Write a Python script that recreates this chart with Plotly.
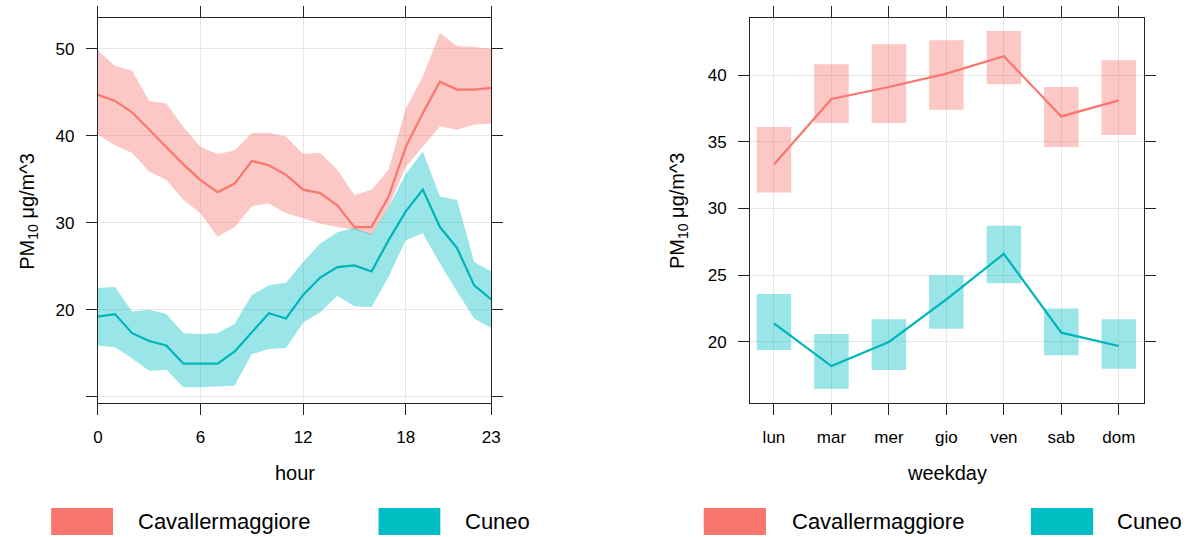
import plotly.graph_objects as go

W, H = 1195, 537

# ---------------- data ----------------
series = ["Cavallermaggiore", "Cuneo"]
colors = ["#F8766D", "#00BFC4"]
line_colors = ["#F8766D", "#00B5BA"]
band_colors = ["rgba(248,118,109,0.4)", "rgba(0,191,196,0.4)"]

hours = list(range(24))
hour_ticks = [0, 6, 12, 18, 23]
cav_hour_mean = [44.7, 44.0, 42.7, 40.7, 38.7, 36.7, 34.9, 33.5, 34.5, 37.1, 36.6, 35.5,
                 33.8, 33.4, 32.0, 29.5, 29.5, 33.0, 38.7, 42.6, 46.2, 45.3, 45.3, 45.5]
cav_hour_upper = [49.8, 48.0, 47.5, 44.0, 43.7, 41.0, 38.7, 37.9, 38.3, 40.3, 40.3, 39.9,
                  37.9, 38.0, 36.1, 33.2, 33.8, 36.1, 43.1, 46.8, 51.8, 50.3, 50.2, 50.0]
cav_hour_lower = [40.1, 38.9, 38.0, 35.9, 34.9, 32.6, 31.1, 28.4, 29.5, 31.9, 32.2, 31.1,
                  30.5, 29.9, 29.5, 29.2, 28.6, 31.8, 36.4, 38.7, 41.1, 40.7, 41.3, 41.4]
cun_hour_mean = [19.2, 19.5, 17.3, 16.4, 15.9, 13.8, 13.8, 13.8, 15.2, 17.4, 19.6, 19.0,
                 21.7, 23.7, 24.9, 25.1, 24.4, 28.0, 31.3, 33.8, 29.5, 27.1, 22.8, 21.2]
cun_hour_upper = [22.5, 22.6, 19.8, 20.0, 19.5, 17.3, 17.2, 17.3, 18.4, 21.7, 22.8, 23.1,
                  25.5, 27.6, 28.9, 29.4, 28.7, 31.8, 35.6, 38.2, 33.0, 32.6, 25.5, 24.4]
cun_hour_lower = [15.9, 15.7, 14.4, 13.0, 13.1, 11.1, 11.1, 11.2, 11.3, 14.9, 15.5, 15.6,
                  18.5, 19.7, 21.6, 20.4, 20.3, 23.8, 28.0, 28.8, 25.3, 22.1, 19.0, 17.9]
hour_yticks = [10, 20, 30, 40, 50]
hour_yticklabels = ["", "20", "30", "40", "50"]

weekdays = ["lun", "mar", "mer", "gio", "ven", "sab", "dom"]
cav_wd_mean = [33.3, 38.2, 39.1, 40.1, 41.4, 36.9, 38.1]
cav_wd_lower = [31.2, 36.4, 36.4, 37.4, 39.3, 34.6, 35.5]
cav_wd_upper = [36.1, 40.8, 42.3, 42.6, 43.3, 39.1, 41.1]
cun_wd_mean = [21.4, 18.2, 20.0, 23.2, 26.6, 20.7, 19.7]
cun_wd_lower = [19.4, 16.5, 17.9, 21.0, 24.4, 19.0, 18.0]
cun_wd_upper = [23.6, 20.6, 21.7, 25.0, 28.7, 22.5, 21.7]
wd_yticks = [20, 25, 30, 35, 40]

hour_means = [cav_hour_mean, cun_hour_mean]
hour_uppers = [cav_hour_upper, cun_hour_upper]
hour_lowers = [cav_hour_lower, cun_hour_lower]
wd_means = [cav_wd_mean, cun_wd_mean]
wd_uppers = [cav_wd_upper, cun_wd_upper]
wd_lowers = [cav_wd_lower, cun_wd_lower]

# ---------------- figure ----------------
fig = go.Figure()

# hour panel: bands
for i in range(2):
    fig.add_trace(go.Scatter(x=hours, y=hour_uppers[i], mode="lines", line=dict(width=0),
                             hoverinfo="skip", showlegend=False, xaxis="x", yaxis="y"))
    fig.add_trace(go.Scatter(x=hours, y=hour_lowers[i], mode="lines", line=dict(width=0),
                             fill="tonexty", fillcolor=band_colors[i],
                             hoverinfo="skip", showlegend=False, xaxis="x", yaxis="y"))
for i in range(2):
    fig.add_trace(go.Scatter(x=hours, y=hour_means[i], mode="lines",
                             line=dict(color=line_colors[i], width=2.2),
                             name=series[i], showlegend=False, xaxis="x", yaxis="y"))

# weekday panel: boxes and lines
for i in range(2):
    fig.add_trace(go.Bar(x=weekdays, y=[u - l for u, l in zip(wd_uppers[i], wd_lowers[i])],
                         base=wd_lowers[i], width=0.6,
                         marker=dict(color=band_colors[i], line=dict(width=0)),
                         showlegend=False, xaxis="x2", yaxis="y2"))
for i in range(2):
    fig.add_trace(go.Scatter(x=weekdays, y=wd_means[i], mode="lines",
                             line=dict(color=line_colors[i], width=2.2),
                             name=series[i], showlegend=False, xaxis="x2", yaxis="y2"))

ydom = [1 - 403 / H, 1 - 18 / H]
tickfont = dict(family="Liberation Sans, Arial, sans-serif", size=17, color="#000000")
common = dict(showline=True, linecolor="#222222", linewidth=1.2, mirror="ticks",
              ticks="outside", ticklen=11, tickwidth=1.2, tickcolor="#222222",
              showgrid=True, gridcolor="#e6e6e6", gridwidth=1, zeroline=False,
              tickfont=tickfont)

fig.update_layout(
    width=W, height=H, margin=dict(l=0, r=0, t=0, b=0), autosize=False,
    paper_bgcolor="white", plot_bgcolor="white", showlegend=False, barmode="overlay",
    xaxis=dict(domain=[94 / W, 492 / W], range=[0, 23], tickmode="array",
               tickvals=hour_ticks, ticktext=[str(t) for t in hour_ticks],
               anchor="y", ticklabelstandoff=7, **common),
    yaxis=dict(domain=ydom, range=[9.28, 53.53], tickmode="array",
               tickvals=hour_yticks, ticktext=hour_yticklabels,
               anchor="x", ticklabelstandoff=8, **common),
    xaxis2=dict(domain=[754 / W, 1152 / W], range=[-0.414, 6.43], type="category",
                categoryorder="array", categoryarray=weekdays,
                anchor="y2", ticklabelstandoff=7, **common),
    yaxis2=dict(domain=ydom, range=[15.43, 44.27], tickmode="array",
                tickvals=wd_yticks, ticktext=[str(t) for t in wd_yticks],
                anchor="x2", ticklabelstandoff=8, **common),
)

font_t = dict(family="Liberation Sans, Arial, sans-serif", size=20, color="#000000")
ann = []
ann.append(dict(text="hour", x=293 / W, y=1 - 473 / H, xref="paper", yref="paper",
                xanchor="center", yanchor="middle", showarrow=False, font=font_t))
ann.append(dict(text="weekday", x=953 / W, y=1 - 473 / H, xref="paper", yref="paper",
                xanchor="center", yanchor="middle", showarrow=False, font=font_t))
ytitle = "PM<sub>10</sub> \u03bcg/m^3"
for xc in (23, 681):
    ann.append(dict(text=ytitle, x=xc / W, y=1 - 211 / H, xref="paper", yref="paper",
                    xanchor="center", yanchor="middle", textangle=-90, showarrow=False,
                    font=font_t))

# legends (one below each panel)
font_l = dict(family="Liberation Sans, Arial, sans-serif", size=22, color="#000000")
legend_rects = [[(46.7, 109.3), (378, 440.5)], [(707, 770), (1038, 1101)]]
legend_text_x = [[133, 463], [794, 1123.5]]
shapes = []
for p in range(2):
    for i in range(2):
        x0, x1 = legend_rects[p][i]
        shapes.append(dict(type="rect", xref="paper", yref="paper",
                           x0=x0 / W, x1=x1 / W, y0=1 - 535 / H, y1=1 - 508 / H,
                           fillcolor=colors[i], line=dict(width=0)))
        ann.append(dict(text=series[i], x=legend_text_x[p][i] / W, y=1 - 521 / H,
                        xref="paper", yref="paper", xanchor="left", yanchor="middle",
                        showarrow=False, font=font_l))

fig.update_layout(annotations=ann, shapes=shapes)
fig.write_html("out.html")
